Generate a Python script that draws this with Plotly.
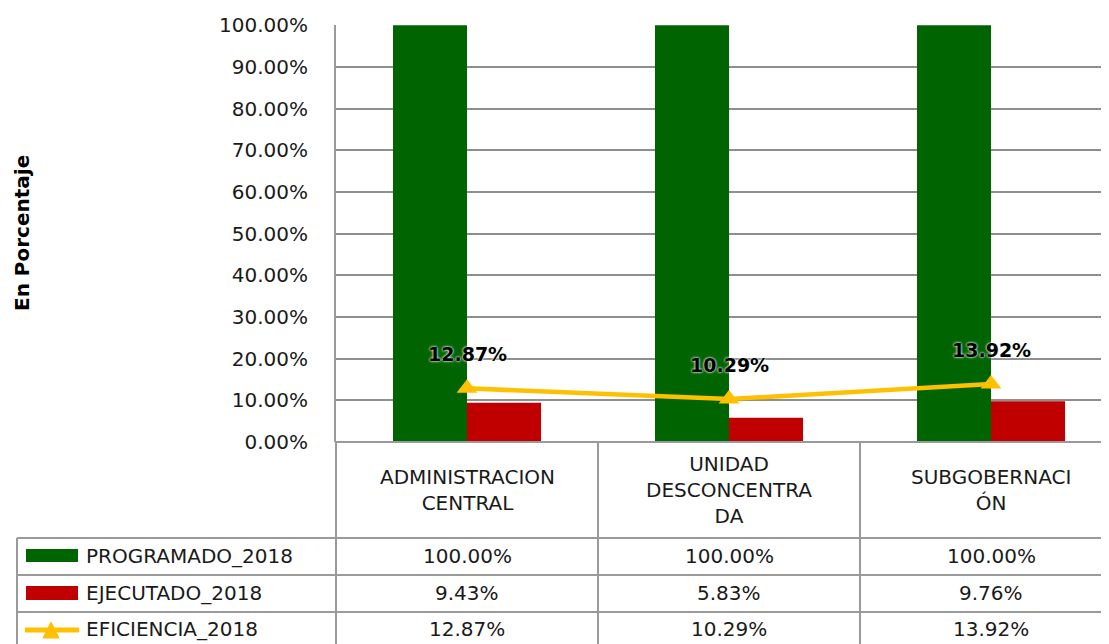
import plotly.graph_objects as go

categories = ["ADMINISTRACION CENTRAL", "UNIDAD DESCONCENTRADA", "SUBGOBERNACIÓN"]
header_labels = ["ADMINISTRACION<br>CENTRAL", "UNIDAD<br>DESCONCENTRA<br>DA", "SUBGOBERNACI<br>ÓN"]
series_names = ["PROGRAMADO_2018", "EJECUTADO_2018", "EFICIENCIA_2018"]
programado = [1.0, 1.0, 1.0]
ejecutado = [0.0943, 0.0583, 0.0976]
eficiencia = [0.1287, 0.1029, 0.1392]
y_ticks = [0, 0.1, 0.2, 0.3, 0.4, 0.5, 0.6, 0.7, 0.8, 0.9, 1.0]

# window coordinates (page body has an 8px margin)
OFF = 8
WW, WH = 1109, 644
L, T, B = 336, 25, 442
FONT = "DejaVu Sans"
GRID = "#8e8e8e"
GREEN = "#006400"
RED = "#C00000"
YELLOW = "#FFC000"


def px(x):
    return (x - L) / (WW - L)


def py(y):
    return (B - y) / (B - T)


fig = go.Figure()
fig.add_trace(go.Bar(x=categories, y=programado, name=series_names[0],
                     marker=dict(color=GREEN, line=dict(width=0))))
fig.add_trace(go.Bar(x=categories, y=ejecutado, name=series_names[1],
                     marker=dict(color=RED, line=dict(width=0))))
fig.add_trace(go.Scatter(x=categories, y=eficiencia, name=series_names[2], mode="lines+markers",
                         line=dict(color=YELLOW, width=4.5),
                         marker=dict(symbol="triangle-up", size=18, color=YELLOW)))

annotations = []
# data labels
for c, v in zip(categories, eficiencia):
    annotations.append(dict(x=c, y=v, xref="x", yref="y", text=f"{v*100:.2f}%", showarrow=False,
                            yshift=34, font=dict(family=FONT, size=19, color="black", weight="bold",
                                                 shadow="0px 0px 2px #ffffff, 0px 0px 3px #dfeedf")))
# y axis title
annotations.append(dict(x=px(22), y=py(233), xref="paper", yref="paper", text="<b>En Porcentaje</b>",
                        textangle=-90, showarrow=False, xanchor="center", yanchor="middle",
                        font=dict(family=FONT, size=20, color="black")))
# header row
for c, lab in zip(categories, header_labels):
    annotations.append(dict(x=c, y=py(490), xref="x", yref="paper", text=lab, showarrow=False,
                            xanchor="center", yanchor="middle",
                            font=dict(family=FONT, size=20, color="#1a1a1a")))
# data rows
row_centers = [556, 593, 629]
for name, vals, yc in zip(series_names, [programado, ejecutado, eficiencia], row_centers):
    annotations.append(dict(x=px(84), y=py(yc), xref="paper", yref="paper", text=name, showarrow=False,
                            xanchor="left", yanchor="middle",
                            font=dict(family=FONT, size=20, color="#1a1a1a")))
    for c, v in zip(categories, vals):
        annotations.append(dict(x=c, y=py(yc), xref="x", yref="paper", text=f"{v*100:.2f}%",
                                showarrow=False, xanchor="center", yanchor="middle",
                                font=dict(family=FONT, size=20, color="#1a1a1a")))

shapes = []
line = dict(color="#9a9a9a", width=2)
# horizontal table lines
for yy in [538, 575, 612]:
    shapes.append(dict(type="line", xref="paper", yref="paper", x0=px(17), x1=px(1125),
                       y0=py(yy), y1=py(yy), line=line, layer="above"))
shapes.append(dict(type="line", xref="paper", yref="paper", x0=px(336), x1=px(1125),
                   y0=py(442), y1=py(442), line=line, layer="above"))
# vertical table lines
for xx in [336, 598, 860]:
    shapes.append(dict(type="line", xref="paper", yref="paper", x0=px(xx), x1=px(xx),
                       y0=py(442), y1=py(650), line=line, layer="above"))
shapes.append(dict(type="line", xref="paper", yref="paper", x0=px(17), x1=px(17),
                   y0=py(538), y1=py(650), line=line, layer="above"))
# legend keys
shapes.append(dict(type="rect", xref="paper", yref="paper", x0=px(26), x1=px(78),
                   y0=py(549), y1=py(562), fillcolor=GREEN, line=dict(width=0)))
shapes.append(dict(type="rect", xref="paper", yref="paper", x0=px(26), x1=px(78),
                   y0=py(586), y1=py(600), fillcolor=RED, line=dict(width=0)))
shapes.append(dict(type="line", xref="paper", yref="paper", x0=px(25), x1=px(79),
                   y0=py(630), y1=py(630), line=dict(color=YELLOW, width=5)))
tri = f"M {px(43)},{py(638)} L {px(51)},{py(622)} L {px(59)},{py(638)} Z"
shapes.append(dict(type="path", xref="paper", yref="paper", path=tri, fillcolor=YELLOW,
                   line=dict(color=YELLOW, width=1)))

fig.update_layout(
    width=WW - OFF, height=WH - OFF,
    margin=dict(l=L - OFF, r=0, t=T - OFF, b=WH - B, pad=0),
    paper_bgcolor="white", plot_bgcolor="white",
    barmode="group", bargap=0.435, bargroupgap=0,
    showlegend=False,
    annotations=annotations, shapes=shapes,
    xaxis=dict(type="category", range=[-0.5, -0.5 + (WW - L) / 262.0], showticklabels=False,
               showgrid=False, zeroline=False, showline=False, fixedrange=True),
    yaxis=dict(range=[0, 1.0005], tickvals=y_ticks, tickformat=".2%", showgrid=True,
               gridcolor=GRID, gridwidth=2, zeroline=False, showline=True, linecolor="#9a9a9a",
               linewidth=2, ticks="", ticklabelstandoff=22,
               tickfont=dict(family=FONT, size=20, color="#1a1a1a"), fixedrange=True),
)

fig.write_html("out.html", config={"displayModeBar": False})
